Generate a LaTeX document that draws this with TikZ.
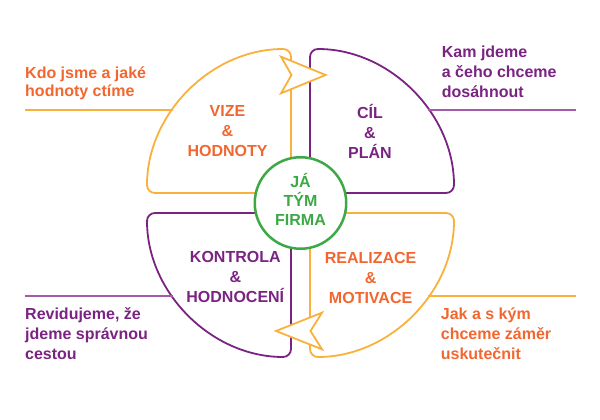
\documentclass[tikz,border=0pt]{standalone}
\usepackage{fontspec}
\setmainfont{Liberation Sans}
\usepackage{tikz}
\usetikzlibrary{positioning,calc}
\definecolor{zluta}{HTML}{F9B13B}
\definecolor{oranz}{HTML}{F26630}
\definecolor{fialova}{HTML}{7B2382}
\definecolor{svfialova}{HTML}{A45AA8}
\definecolor{zelena}{HTML}{3DA846}
\tikzstyle{quarter}=[line width=1.8pt, rounded corners=8pt, line join=round]
\tikzstyle{leader}=[line width=1.6pt]
\tikzstyle{sipka}=[line width=1.8pt, draw=zluta, fill=white, line join=miter]
\tikzstyle{heading}=[font=\bfseries\fontsize{16}{20}\selectfont, align=center, inner sep=0pt]
\tikzstyle{side}=[font=\bfseries\fontsize{16}{20}\selectfont, align=left, inner sep=0pt, anchor=base west]

\begin{document}
\begin{tikzpicture}[x=1pt,y=1pt]
\useasboundingbox (0,0) rectangle (600,420);
\coordinate (o) at (300.5,217);
\coordinate (ctl) at (291,227);
\coordinate (ctr) at (310,227);
\coordinate (cbl) at (291,207);
\coordinate (cbr) at (310,207);
\coordinate (lx) at (25,0);
\coordinate (rx) at (576,0);

\draw[quarter, zluta] ($(ctl)+(-144,0)$) arc[start angle=180, end angle=90, radius=144] -- (ctl) -- cycle;
\draw[quarter, fialova] ($(ctr)+(0,144)$) arc[start angle=90, end angle=0, radius=144] -- (ctr) -- cycle;
\draw[quarter, fialova] ($(cbl)+(0,-144)$) arc[start angle=270, end angle=180, radius=144] -- (cbl) -- cycle;
\draw[quarter, zluta] ($(cbr)+(144,0)$) arc[start angle=0, end angle=-90, radius=144] -- (cbr) -- cycle;

\coordinate (ptl) at ($(ctl)+(144.7:144)$);
\coordinate (ptr) at ($(ctr)+(35.3:144)$);
\coordinate (pbl) at ($(cbl)+(215.3:144)$);
\coordinate (pbr) at ($(cbr)+(-35.3:144)$);
\draw[leader, zluta] (ptl) -- (ptl -| lx);
\draw[leader, svfialova] (ptr) -- (ptr -| rx);
\draw[leader, svfialova] (pbl) -- (pbl -| lx);
\draw[leader, zluta] (pbr) -- (pbr -| rx);

\draw[sipka] (281,363.3) -- (325.7,345) -- (281,326.7) -- (291.5,345) -- cycle;
\draw[sipka] (322,107.3) -- (276,89) -- (322,70.7) -- (310.5,89) -- cycle;

\node[circle, draw=zelena, fill=white, line width=2.5pt, minimum size=91.5pt, inner sep=0pt] (kruh) at (o) {};
\node[heading, zelena, font=\bfseries\fontsize{16}{19}\selectfont] (ja) at (300.5,221) {JÁ\\TÝM\\FIRMA};

\node[heading, oranz] (vize) at (227.5,289) {VIZE\\\&\\HODNOTY};
\node[heading, fialova] (cil) at (370,288.2) {CÍL\\\&\\PLÁN};
\node[heading, fialova] (kontrola) at (235.3,143.5) {KONTROLA\\\&\\HODNOCENÍ};
\node[heading, oranz] (realizace) at (370.6,141.6) {REALIZACE\\\&\\MOTIVACE};

\node[side, oranz, font=\bfseries\fontsize{16}{18.5}\selectfont] (kdo) at (25,323.3) {Kdo jsme a jaké\\hodnoty ctíme};
\node[side, fialova] (kam) at (441.7,322.3) {Kam jdeme\\a čeho chceme\\dosáhnout};
\node[side, fialova] (revid) at (25,60.7) {Revidujeme, že\\jdeme správnou\\cestou};
\node[side, oranz] (jak) at (440.7,60.7) {Jak a s kým\\chceme záměr\\uskutečnit};
\end{tikzpicture}
\end{document}
